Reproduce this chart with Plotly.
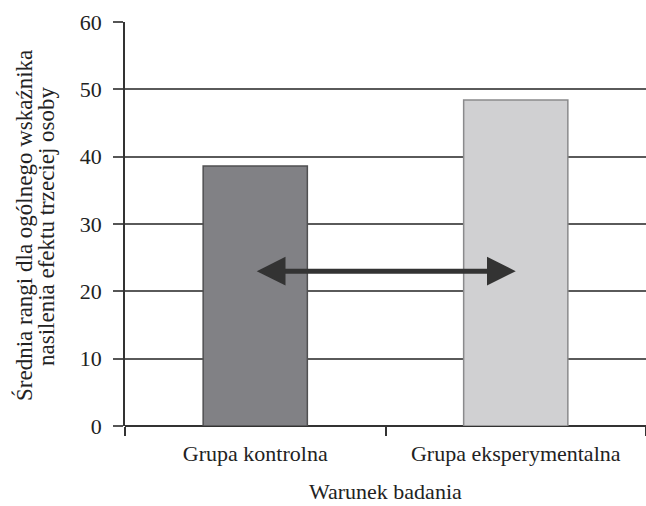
import plotly.graph_objects as go

categories = ["Grupa kontrolna", "Grupa eksperymentalna"]
values = [38.6, 48.4]
bar_colors = ["#818185", "#d0d0d2"]
bar_lines = ["#505052", "#8a8a8c"]
arrow_y = 23
y_ticks = [0, 10, 20, 30, 40, 50, 60]
y_title_lines = ["Średnia rangi dla ogólnego wskaźnika", "nasilenia efektu trzeciej osoby"]
x_title = "Warunek badania"

FONT = "Liberation Serif, Times New Roman, serif"
TXT = "#222222"

fig = go.Figure()
fig.add_trace(go.Bar(
    x=categories, y=values, width=0.4,
    marker=dict(color=bar_colors, line=dict(color=bar_lines, width=1.5)),
    showlegend=False, hoverinfo="skip",
))

# double-headed arrow between category centres
fig.add_annotation(
    x=categories[1], y=arrow_y, ax=categories[0], ay=arrow_y,
    xref="x", yref="y", axref="x", ayref="y",
    showarrow=True, arrowhead=2, startarrowhead=2, arrowside="end+start",
    arrowwidth=5, arrowsize=1.15, startarrowsize=1.15, arrowcolor="#333333",
    text="", standoff=0, startstandoff=0,
)

fig.add_annotation(
    text=x_title, xref="paper", yref="paper", x=0.5, y=-0.162,
    xanchor="center", yanchor="middle", showarrow=False,
    font=dict(family=FONT, size=22, color=TXT),
)
# y title, two lines (pixel positions expressed as paper fractions)
for line, px in zip(y_title_lines, [24, 46]):
    fig.add_annotation(
        text=line, xref="paper", yref="paper", x=(px - 125) / 521, y=0.495,
        xanchor="center", yanchor="middle", showarrow=False, textangle=-90,
        font=dict(family=FONT, size=23, color=TXT),
    )

fig.update_layout(
    width=646, height=506,
    margin=dict(l=125, r=0, t=22, b=80),
    paper_bgcolor="white", plot_bgcolor="white",
    font=dict(family=FONT, size=22, color=TXT),
    xaxis=dict(
        tickson="boundaries", ticks="outside", ticklen=9, tickwidth=1.5,
        tickcolor="#333333", showline=False, showgrid=False,
        range=[-0.5, 1.5], tickfont=dict(size=22), ticklabelstandoff=12,
    ),
    yaxis=dict(
        range=[0, 60], tickvals=y_ticks, ticks="outside", ticklen=10,
        tickwidth=1.5, tickcolor="#555555", showgrid=True,
        gridcolor="#5a5a5a", gridwidth=1.5, showline=True,
        linecolor="#333333", linewidth=1.5, zeroline=True,
        zerolinecolor="#333333", zerolinewidth=1.5,
        ticklabelstandoff=7, tickfont=dict(size=22),
    ),
)

fig.write_html(
    "out.html",
    config={"displayModeBar": False},
    post_script="document.body.style.margin='0';document.body.style.overflow='hidden';",
)
